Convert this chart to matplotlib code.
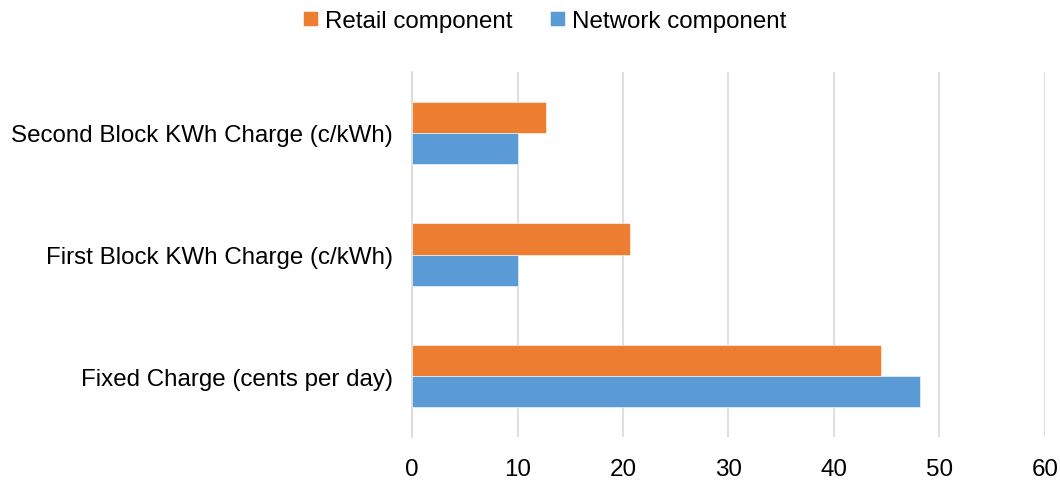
import numpy as np
import matplotlib
matplotlib.use("Agg")
import matplotlib.pyplot as plt

plt.rcParams['font.family'] = ['Liberation Sans', 'DejaVu Sans']

categories = ["Fixed Charge (cents per day)",
              "First Block KWh Charge (c/kWh)",
              "Second Block KWh Charge (c/kWh)"]
retail = [44.5, 20.7, 12.7]
network = [48.2, 10.0, 10.0]
xticks = [0, 10, 20, 30, 40, 50, 60]

ORANGE = "#ED7D31"
BLUE = "#5B9BD5"
GRID = "#D9D9D9"

fig = plt.figure(figsize=(10.6, 4.81), dpi=100)
ax = fig.add_axes([0.3887, 0.0894, 0.5971, 0.7588])

y = np.arange(len(categories))
h = 0.255
ax.barh(y + h / 2, retail, height=h, color=ORANGE, edgecolor="white",
        linewidth=0.4, label="Retail component", zorder=3)
ax.barh(y - h / 2, network, height=h, color=BLUE, edgecolor="white",
        linewidth=0.4, label="Network component", zorder=3)

ax.set_xlim(0, 60)
ax.set_ylim(-0.5, 2.5)
ax.set_xticks(xticks)
ax.set_yticks(y)
ax.set_yticklabels(categories)
ax.tick_params(axis="both", length=0, labelsize=17.4, colors="#000000")
ax.tick_params(axis="x", pad=15)
ax.tick_params(axis="y", pad=14)
ax.xaxis.grid(True, color=GRID, linewidth=1.2, zorder=0)
for side in ["top", "right", "bottom"]:
    ax.spines[side].set_visible(False)
ax.spines["left"].set_color(GRID)
ax.spines["left"].set_linewidth(1.2)

fig.legend(loc="center", bbox_to_anchor=(0.514, 0.954), ncol=2, frameon=False,
           fontsize=17.4, handlelength=0.6, handleheight=0.6, handletextpad=0.3,
           columnspacing=1.55)

fig.savefig("out.png", dpi=100)
